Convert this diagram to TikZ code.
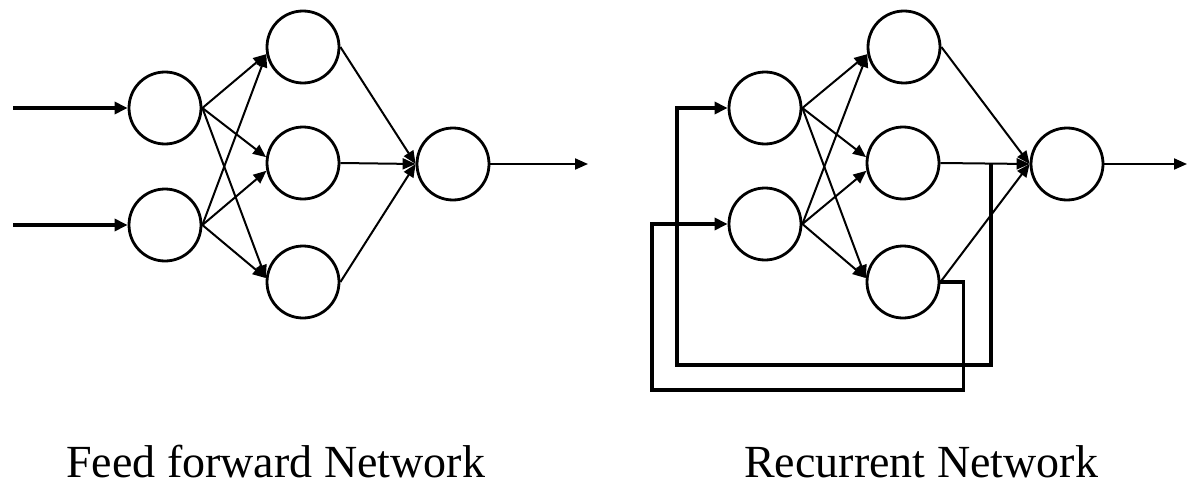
\documentclass[tikz,border=0pt]{standalone}
\usepackage{fontspec}
\setmainfont{Liberation Serif}
\usetikzlibrary{arrows.meta}
\tikzset{
  neuron/.style={draw, circle, line width=2.8pt, minimum size=72pt, inner sep=0pt},
  weight/.style={line width=2pt, -{Triangle[length=13pt,width=11pt]}},
  inarrow/.style={line width=4pt, -{Triangle[length=13pt,width=12pt]}},
  feedback/.style={line width=3.2pt, -{Triangle[length=13pt,width=12pt]}},
  label/.style={font=\fontsize{46}{52}\selectfont, inner sep=0pt, anchor=base west}
}
\begin{document}
\begin{tikzpicture}[x=1pt,y=-1pt]
\useasboundingbox (0,0) rectangle (1188,487);
% ---------- Feed forward network ----------
\node[neuron] (i1) at (165,108) {};
\node[neuron] (i2) at (165,225) {};
\node[neuron] (h1) at (303,47) {};
\node[neuron] (h2) at (303,163) {};
\node[neuron] (h3) at (303,282) {};
\node[neuron] (o) at (453,164) {};
\coordinate (s1) at (13,108);
\coordinate (s2) at (13,225);
\coordinate (e) at (588,164);
\draw[inarrow] (s1) -- (i1.west);
\draw[inarrow] (s2) -- (i2.west);
\draw[weight] (i1.east) -- (h1.191);
\draw[weight] (i2.east) -- (h1.191);
\draw[weight] (i1.east) -- (h2.171);
\draw[weight] (i2.east) -- (h2.192);
\draw[weight] (i1.east) -- (h3.174);
\draw[weight] (i2.east) -- (h3.174);
\draw[weight] (h1.east) -- (o.west);
\draw[weight] (h2.east) -- (o.west);
\draw[weight] (h3.east) -- (o.west);
\draw[weight] (o.east) -- (e);
% ---------- Recurrent network ----------
\node[neuron] (ri1) at (765,108) {};
\node[neuron] (ri2) at (765,224) {};
\node[neuron] (rh1) at (904,47) {};
\node[neuron] (rh2) at (903,163) {};
\node[neuron] (rh3) at (903,282) {};
\node[neuron] (ro) at (1067,164) {};
\coordinate (re) at (1187,164);
\coordinate (j1) at (991,163);
\coordinate (c1) at (677,365);
\coordinate (c2) at (652,390);
\draw[weight] (ri1.east) -- (rh1.191);
\draw[weight] (ri2.east) -- (rh1.191);
\draw[weight] (ri1.east) -- (rh2.171);
\draw[weight] (ri2.east) -- (rh2.192);
\draw[weight] (ri1.east) -- (rh3.174);
\draw[weight] (ri2.east) -- (rh3.174);
\draw[weight] (rh1.east) -- (ro.west);
\draw[weight] (rh2.east) -- (ro.west);
\draw[weight] (rh3.east) -- (ro.west);
\draw[weight] (ro.east) -- (re);
\draw[feedback] (j1) |- (c1) |- (ri1.west);
\draw[feedback] (rh3.east) -- ++(23,0) |- (c2) |- (ri2.west);
% ---------- Labels ----------
\node[label] (t1) at (66,477) {Feed forward Network};
\node[label] (t2) at (744,477) {Recurrent Network};
\end{tikzpicture}
\end{document}
